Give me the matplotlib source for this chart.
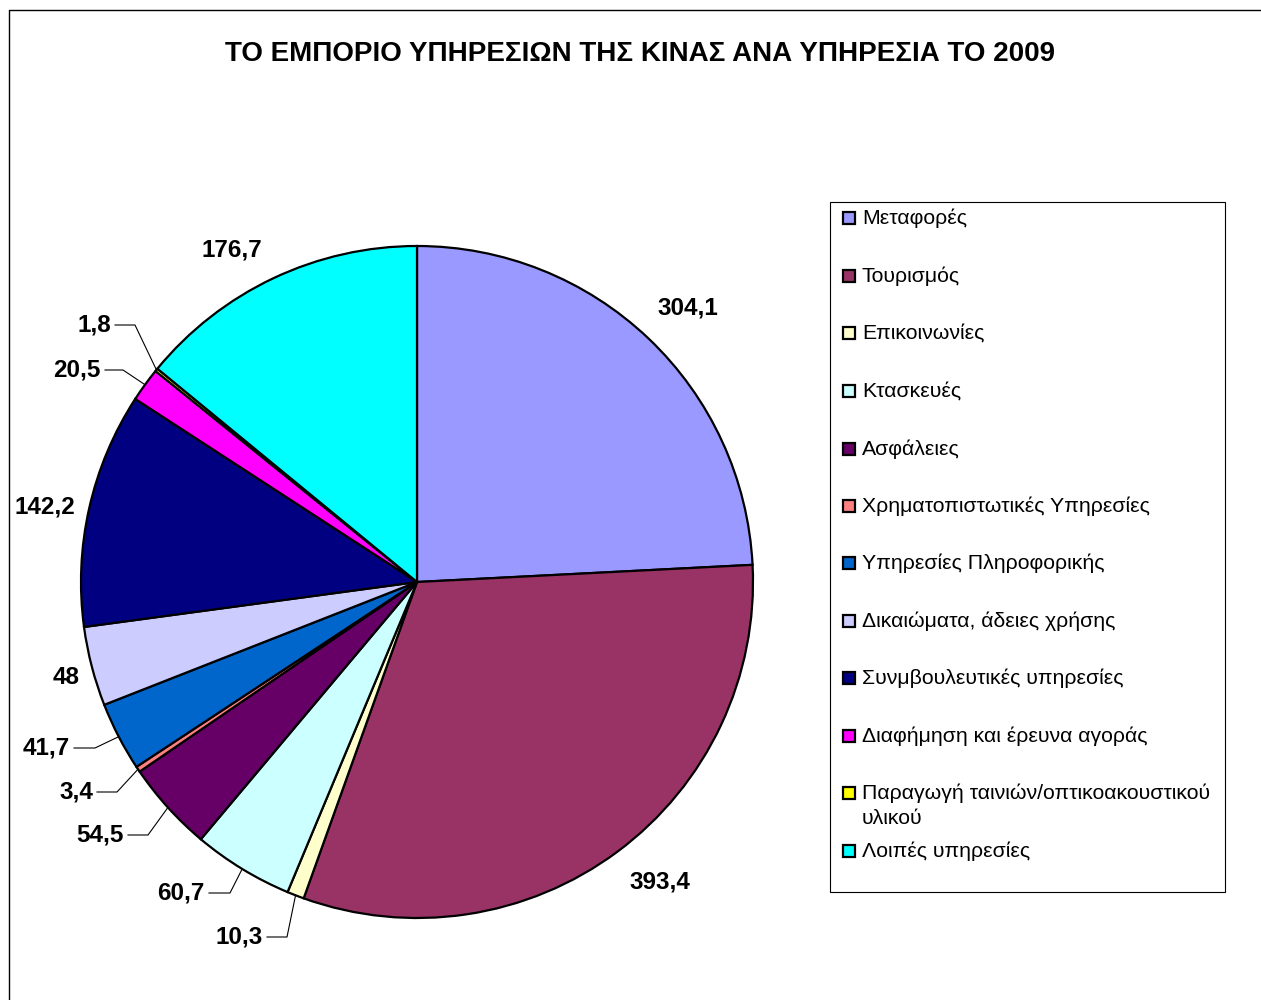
import numpy as np
import matplotlib.pyplot as plt
from matplotlib.patches import Rectangle

# Data -------------------------------------------------------------------

categories = ['Μεταφορές', 'Τουρισμός', 'Επικοινωνίες', 'Κτασκευές', 'Ασφάλειες',
              'Χρηματοπιστωτικές Υπηρεσίες', 'Υπηρεσίες Πληροφορικής',
              'Δικαιώματα, άδειες χρήσης', 'Συνμβουλευτικές υπηρεσίες',
              'Διαφήμηση και έρευνα αγοράς',
              'Παραγωγή ταινιών/οπτικοακουστικού\nυλικού', 'Λοιπές υπηρεσίες']
values = [304.1, 393.4, 10.3, 60.7, 54.5, 3.4, 41.7, 48, 142.2, 20.5, 1.8, 176.7]
value_labels = ['304,1', '393,4', '10,3', '60,7', '54,5', '3,4', '41,7', '48',
                '142,2', '20,5', '1,8', '176,7']
colors = ['#9999FF', '#993366', '#FFFFCC', '#CCFFFF', '#660066', '#FF8080',
          '#0066CC', '#CCCCFF', '#000080', '#FF00FF', '#FFFF00', '#00FFFF']

title = 'ΤΟ ΕΜΠΟΡΙΟ ΥΠΗΡΕΣΙΩΝ ΤΗΣ ΚΙΝΑΣ ΑΝΑ ΥΠΗΡΕΣΙΑ ΤΟ 2009'

#-------------------------------------------------------------------------

# Layout (pixel units, y measured from the top) ---------------------------

W, H = 1261, 1000
center = (417, 582)
radius = 336
# label anchor (right edge of text), and elbow x for leader lines (None = no leader)
label_pos = [(718, 308), (690, 882), (263, 937), (205, 893), (124, 835),
             (93, 792), (70, 748), (80, 678), (75, 507), (101, 370),
             (111, 325), (262, 250)]
elbow_x = [None, None, 287, 230, 148, 117, 95, None, None, 123, 135, None]
legend_box = (830, 202, 1225, 892)
legend_y = [218, 276, 333, 391, 449, 506, 563, 621, 678, 736, 793, 851]

#-------------------------------------------------------------------------

plt.rcParams['font.family'] = ['Liberation Sans', 'DejaVu Sans']

fig = plt.figure(figsize=(W / 100, H / 100), dpi=100)
ax = fig.add_axes([0, 0, 1, 1])


def py(y):
    return H - y


wedges, _ = ax.pie(values, colors=colors, startangle=90, counterclock=False,
                   center=(center[0], py(center[1])), radius=radius,
                   wedgeprops=dict(edgecolor='black', linewidth=1.6),
                   frame=True)
ax.set_xlim(0, W)
ax.set_ylim(0, H)
ax.set_aspect('equal')
ax.axis('off')

# value labels with leader lines
for w, lab, (lx, ly), ex in zip(wedges, value_labels, label_pos, elbow_x):
    ax.text(lx, py(ly), lab, ha='right', va='center', fontsize=17.5,
            fontweight='bold')
    if ex is not None:
        ang = np.deg2rad((w.theta1 + w.theta2) / 2)
        edge = (w.center[0] + w.r * np.cos(ang), w.center[1] + w.r * np.sin(ang))
        ax.plot([lx + 4, ex, edge[0]], [py(ly), py(ly), edge[1]],
                color='black', linewidth=0.8)

# title
ax.text(640, py(54), title, ha='center', va='center', fontsize=20,
        fontweight='bold')

# legend
x0, y0, x1, y1 = legend_box
ax.add_patch(Rectangle((x0, py(y1)), x1 - x0, y1 - y0, facecolor='white',
                       edgecolor='black', linewidth=0.8))
for c, name, ly in zip(colors, categories, legend_y):
    ax.add_patch(Rectangle((843, py(ly) - 6), 12, 12, facecolor=c,
                           edgecolor='black', linewidth=1.6))
    for k, line in enumerate(name.split('\n')):
        ax.text(862, py(ly + 25 * k), line, ha='left', va='center',
                fontsize=15.3)

# chart area border (left and top only visible)
ax.plot([9, 9, W + 5], [-5, py(10), py(10)], color='black', linewidth=1.0,
        clip_on=False)

fig.savefig('out.png', dpi=100)
